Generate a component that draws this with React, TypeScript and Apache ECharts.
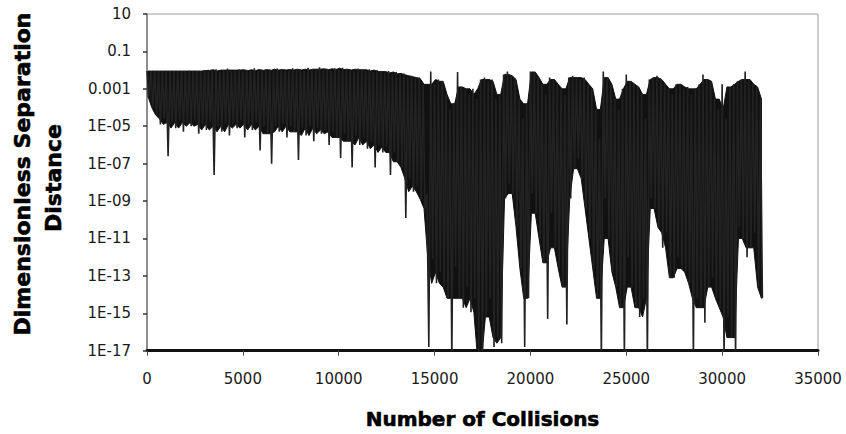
import React, { useEffect, useRef } from "react";
import * as echarts from "echarts";

// x-axis: number of collisions
const X_MIN = 0;
const X_MAX = 35000;
const X_INTERVAL = 5000;
// the data is read as an envelope sampled every SAMPLE_STEP collisions:
// the line swings up to the sample's high value, then down to its low value
const SAMPLE_STEP = 200;

// y-axis (log) ticks and their labels
const Y_TICK_VALUES = [10, 0.1, 0.001, 1e-5, 1e-7, 1e-9, 1e-11, 1e-13, 1e-15, 1e-17];
const Y_TICK_LABELS = ["10", "0.1", "0.001", "1E-05", "1E-07", "1E-09", "1E-11", "1E-13", "1E-15", "1E-17"];

// log10 of the upper excursion of the separation distance, per sample
const HI_EXP = [
  -2.05, -2.05, -2.06, -2.05, -2.05, -2.06, -2.05, -2.05, -2.06, -2.05, -2.05, -2.04, -2.06, -2.05, -2.05, -2.02,
  -1.98, -2.05, -1.95, -2.08, -2.0, -1.92, -2.05, -2.0, -1.95, -2.06, -1.98, -2.03, -1.9, -2.05, -1.97,
  -2.02, -1.95, -2.05, -1.92, -2.0, -1.97, -2.04, -1.9, -2.0, -1.95, -2.02, -1.88, -2.0, -1.95, -1.85,
  -1.98, -1.93, -2.02, -1.9, -1.97, -1.88, -2.0, -1.95, -2.03, -1.92, -1.98, -2.05, -1.95, -2.1, -2.0,
  -2.08, -2.15, -2.05, -2.2, -2.1, -2.25, -2.18, -2.35, -2.3, -2.45, -2.4, -2.76,
  -8.6, -2.07, -2.76, -2.5, -2.6, -3.3, -4.1, -3.8, -2.1, -2.9,
  -3.0, -3.3, -3.0, -3.55, -2.5, -2.4, -2.6, -2.5, -3.55, -3.3,
  -2.23, -2.07, -2.3, -2.5, -3.55, -4.6, -3.8, -2.07, -2.1, -2.4,
  -2.76, -3.3, -2.4, -2.5, -2.76, -3.0, -3.3, -2.4, -2.3, -2.4,
  -2.5, -2.4, -2.76, -3.0, -4.1, -5.7, -2.07, -2.4, -2.76, -3.55,
  -4.1, -3.0, -2.23, -2.6, -2.76, -2.9, -3.3, -4.6, -2.5, -2.4,
  -2.3, -2.5, -2.76, -3.0, -3.3, -2.76, -2.76, -3.0, -2.9, -3.3,
  -3.0, -2.76, -2.23, -2.5, -2.6, -3.55, -4.1, -2.76, -4.6, -2.9,
  -2.76, -2.6, -2.5, -2.07, -2.5, -2.76, -2.9, -3.55,
];

// log10 of the lower excursion of the separation distance, per sample
const LO_EXP = [
  -3.4, -4.0, -4.4, -4.9, -4.6, -6.6, -4.8, -5.1, -4.7, -5.3,
  -4.8, -5.0, -4.7, -5.4, -4.9, -5.2, -4.8, -7.6, -5.0, -5.3,
  -4.8, -5.5, -4.9, -5.1, -4.7, -5.6, -4.9, -5.2, -4.8, -6.3,
  -5.0, -5.4, -7.0, -5.0, -5.3, -4.9, -5.6, -5.0, -5.3, -6.8,
  -5.1, -5.5, -5.0, -5.8, -5.1, -5.4, -5.2, -6.0, -5.3, -5.6,
  -6.7, -5.4, -5.8, -7.2, -5.5, -6.0, -5.6, -6.2, -5.8, -7.2,
  -6.0, -6.4, -6.1, -7.6, -6.4, -6.9, -7.2, -9.9, -7.8, -8.5,
  -8.2, -8.9, -9.4,
  -16.8, -12.1, -13.4, -12.8, -13.6, -14.2, -17.5, -12.5, -14.2, -14.7,
  -13.6, -14.95, -14.2, -17.5, -17.5, -15.2, -14.2, -16.8, -16.3, -16.6,
  -8.86, -8.06, -8.6, -10.4, -12.6, -16.8, -14.2, -8.6, -9.65, -11.0,
  -12.3, -15.3, -9.65, -11.5, -12.6, -13.6, -15.6, -8.86, -7.27, -6.74,
  -7.8, -9.4, -11.0, -12.6, -14.2, -17.5, -8.86, -11.0, -12.8, -13.6,
  -14.7, -17.5, -12.0, -13.6, -14.7, -15.2, -14.2, -17.5, -8.86, -9.4,
  -10.4, -11.5, -10.7, -13.1, -13.1, -12.0, -12.6, -12.8, -13.4, -17.5,
  -14.2, -14.7, -15.5, -13.6, -13.1, -14.2, -14.7, -17.5, -15.2, -16.3,
  -17.5, -10.4, -11.0, -12.0, -11.5, -10.7, -13.6, -14.2,
];

const X_TITLE = "Number of Collisions";
const Y_TITLE_LINES = ["Dimensionless Separation", "Distance"];

const N = Math.min(HI_EXP.length, LO_EXP.length);

// zig-zag trace: high value at each sample, low value half a step later
function buildTrace(): [number, number][] {
  const pts: [number, number][] = [];
  for (let i = 0; i < N; i++) {
    const x = i * SAMPLE_STEP;
    pts.push([x, Math.pow(10, HI_EXP[i])]);
    pts.push([x + SAMPLE_STEP / 2, Math.pow(10, LO_EXP[i])]);
  }
  return pts;
}

function median3(arr: number[], i: number): number {
  const a = arr[Math.max(0, i - 1)];
  const b = arr[i];
  const c = arr[Math.min(arr.length - 1, i + 1)];
  return Math.max(Math.min(a, b), Math.min(Math.max(a, b), c));
}

// dense (solid black) core of the trace: isolated single swings are left to the thin line
function buildCore(): [number, number, number][] {
  const rows: [number, number, number][] = [];
  for (let i = 0; i < N; i++) {
    const top = median3(HI_EXP, i);
    let bot = median3(LO_EXP, i);
    if (bot > top) bot = top;
    rows.push([i * SAMPLE_STEP + SAMPLE_STEP / 4, Math.pow(10, top), Math.pow(10, bot)]);
  }
  return rows;
}

function yLabel(v: number): string {
  const e = Math.round(Math.log10(v));
  const idx = Y_TICK_VALUES.findIndex((t) => Math.round(Math.log10(t)) === e);
  return idx >= 0 ? Y_TICK_LABELS[idx] : "";
}

export default function App() {
  const ref = useRef<HTMLDivElement>(null);

  useEffect(() => {
    if (!ref.current) return;
    const chart = echarts.init(ref.current, undefined, { renderer: "svg" });
    const tickFont = "DejaVu Sans";
    const core = buildCore();
    chart.setOption({
      animation: false,
      backgroundColor: "#ffffff",
      grid: {
        left: 147,
        right: 28,
        top: 14,
        bottom: 81,
        show: true,
        borderColor: "#9a9a9a",
        borderWidth: 1,
      },
      xAxis: {
        type: "value",
        min: X_MIN,
        max: X_MAX,
        interval: X_INTERVAL,
        axisLine: { show: true, onZero: false, lineStyle: { color: "#111", width: 3 } },
        axisTick: { show: true, length: 5, lineStyle: { color: "#444", width: 1 } },
        axisLabel: {
          margin: 21,
          fontFamily: tickFont,
          fontSize: 15,
          color: "#1a1a1a",
          formatter: (v: number) => String(v),
        },
        splitLine: { show: false },
        name: X_TITLE,
        nameLocation: "middle",
        nameGap: 58,
        nameTextStyle: {
          fontFamily: tickFont,
          fontWeight: "bold",
          fontSize: 20,
          color: "#000",
          textBorderColor: "#000",
          textBorderWidth: 0.6,
        },
      },
      yAxis: {
        type: "log",
        logBase: 10,
        min: 1e-17,
        max: 10,
        axisLine: { show: true, onZero: false, lineStyle: { color: "#777", width: 1.5 } },
        axisTick: {
          show: true,
          length: 4,
          customValues: Y_TICK_VALUES,
          lineStyle: { color: "#333", width: 1.5 },
        },
        axisLabel: {
          customValues: Y_TICK_VALUES,
          margin: 16,
          fontFamily: tickFont,
          fontSize: 15,
          color: "#1a1a1a",
          formatter: yLabel,
        },
        minorTick: { show: false },
        splitLine: { show: false },
      },
      series: [
        {
          type: "custom",
          coordinateSystem: "cartesian2d",
          clip: true,
          silent: true,
          data: core,
          encode: { x: 0, y: [1, 2] },
          renderItem: (params: any, api: any) => {
            if (params.dataIndex !== 0) return null;
            const upper = core.map((r) => api.coord([r[0], r[1]]));
            const lower = core.map((r) => api.coord([r[0], r[2]])).reverse();
            return {
              type: "polygon",
              shape: { points: upper.concat(lower) },
              style: { fill: "#111", stroke: "#111", lineWidth: 1 },
            };
          },
        },
        {
          type: "line",
          data: buildTrace(),
          showSymbol: false,
          symbol: "none",
          clip: true,
          silent: true,
          lineStyle: { color: "#222", width: 1.6, join: "bevel" },
        },
      ],
      graphic: [
        {
          type: "text",
          x: 22,
          y: 174,
          rotation: Math.PI / 2,
          style: {
            text: Y_TITLE_LINES[0],
            align: "center",
            verticalAlign: "middle",
            font: 'bold 22px "DejaVu Sans"',
            fill: "#000",
            stroke: "#000",
            lineWidth: 0.6,
          },
        },
        {
          type: "text",
          x: 53,
          y: 178,
          rotation: Math.PI / 2,
          style: {
            text: Y_TITLE_LINES[1],
            align: "center",
            verticalAlign: "middle",
            font: 'bold 22px "DejaVu Sans"',
            fill: "#000",
            stroke: "#000",
            lineWidth: 0.6,
          },
        },
      ],
    });
    return () => chart.dispose();
  }, []);

  return (
    <div
      ref={ref}
      style={{ position: "fixed", left: 0, top: 0, width: 846, height: 434 }}
    />
  );
}
